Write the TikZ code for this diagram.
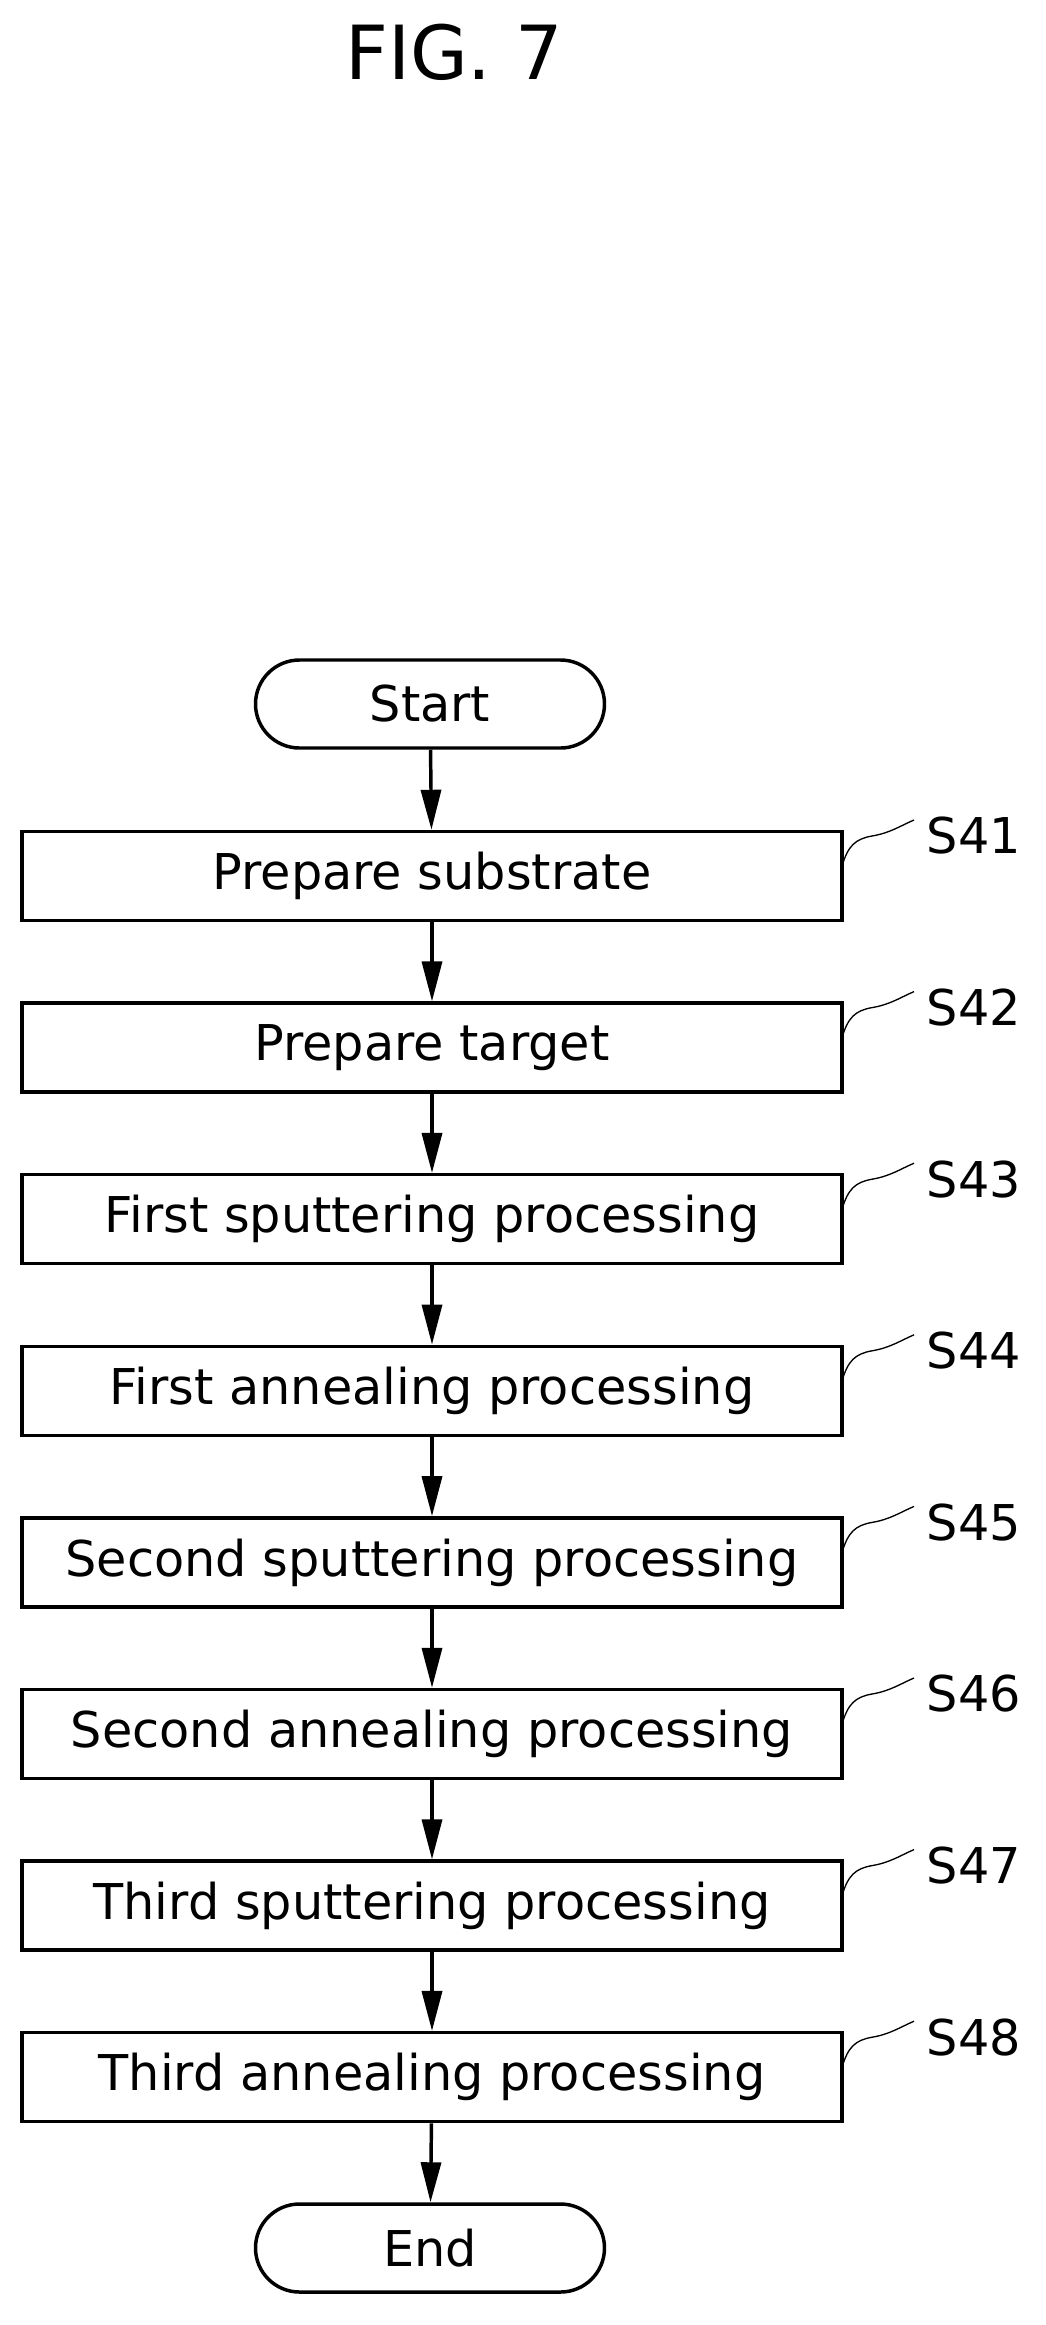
\documentclass[tikz,border=0pt]{standalone}
\usepackage{fontspec}
\setmainfont{DejaVu Sans}
\usetikzlibrary{arrows.meta}
\begin{document}
\begin{tikzpicture}[x=0.75pt,y=-0.75pt,
  box/.style={draw,line width=2.6pt,minimum width=820*0.75pt,minimum height=89*0.75pt,inner sep=0pt,font=\fontsize{37}{42}\selectfont},
  term/.style={draw,line width=2.6pt,rounded corners=44*0.75pt,minimum width=349*0.75pt,minimum height=88*0.75pt,inner sep=0pt,font=\fontsize{37}{42}\selectfont},
  lab/.style={font=\fontsize{37}{42}\selectfont,anchor=west},
  arr/.style={line width=2.6pt,-{Triangle[length=30pt,width=15pt]}}]
\useasboundingbox (0,0) rectangle (1046,2325);
\node[font=\fontsize{56}{62}\selectfont] (title) at (454,52) {FIG. 7};
\node[term] (st) at (430,704) {Start};
\foreach \i/\t/\s in {0/Prepare substrate/S41,1/Prepare target/S42,2/First sputtering processing/S43,3/First annealing processing/S44,4/Second sputtering processing/S45,5/Second annealing processing/S46,6/Third sputtering processing/S47,7/Third annealing processing/S48}{
  \pgfmathsetmacro\yy{876+171.6*\i}
  \node[box] (b\i) at (432,\yy) {\t};
  \node[lab] (l\i) at (922,\yy-40) {\s};
  \coordinate (c\i) at (842,\yy-10);
  \draw[line width=1pt] (c\i) .. controls (848,\yy-30) and (855,\yy-37) .. (872,\yy-40) .. controls (890,\yy-43) and (900,\yy-50) .. (914,\yy-56);
}
\node[term] (en) at (430,2248) {End};
\draw[arr] (st) -- (b0);
\foreach \i [evaluate=\i as \j using int(\i+1)] in {0,...,6}{\draw[arr] (b\i) -- (b\j);}
\draw[arr] (b7) -- (en);
\end{tikzpicture}
\end{document}
